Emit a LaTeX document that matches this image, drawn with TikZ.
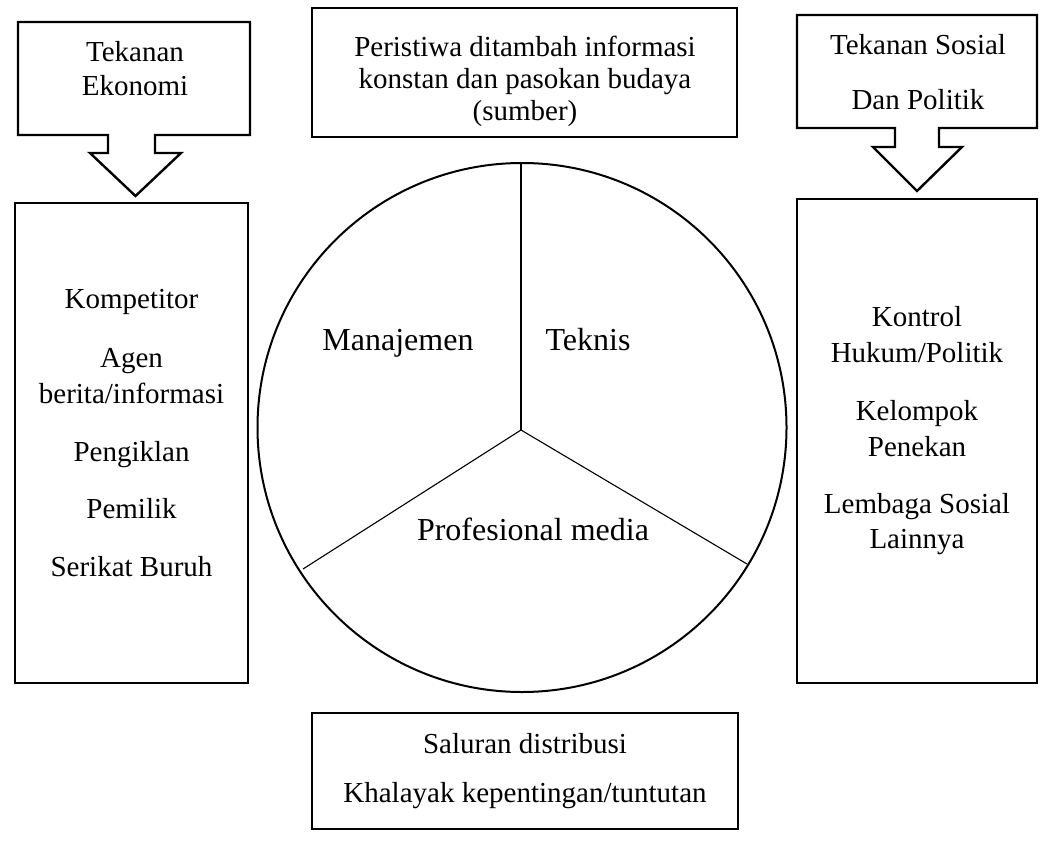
\documentclass[tikz,border=0pt]{standalone}
\usepackage{fontspec}
\setmainfont{Liberation Serif}
\begin{document}
\begin{tikzpicture}[x=1pt,y=-1pt,
  box/.style={line width=2.4pt, line join=miter},
  ring/.style={line width=2pt},
  divider/.style={line width=1.1pt},
  txt/.style={font=\fontsize{29}{34}\selectfont, anchor=base, inner sep=0pt},
  lbl/.style={font=\fontsize{32}{38}\selectfont, anchor=base, inner sep=0pt}]
\useasboundingbox (0,0) rectangle (1043,840);

% left callout
\draw[box] (18,22) -- (250,22) -- (250,135) -- (155,135) -- (155,153) -- (181,153)
  -- (135.5,196) -- (90,153) -- (108,153) -- (108,135) -- (18,135) -- cycle;
\node[txt] (tek1) at (135,62) {Tekanan};
\node[txt] (tek2) at (135,96) {Ekonomi};

% right callout
\draw[box] (797,15) -- (1037,15) -- (1037,128) -- (939,128) -- (939,147) -- (962,147)
  -- (917,191) -- (873,147) -- (895,147) -- (895,128) -- (797,128) -- cycle;
\node[txt] (ts1) at (918,55) {Tekanan Sosial};
\node[txt] (ts2) at (918,110) {Dan Politik};

% top box
\draw[box] (312,8) rectangle (737,137);
\node[txt] (src1) at (525,57) {Peristiwa ditambah informasi};
\node[txt] (src2) at (525,89) {konstan dan pasokan budaya};
\node[txt] (src3) at (525,121) {(sumber)};

% left big box
\draw[box] (15,203) rectangle (248,683);
\node[txt] (l1) at (131.5,308) {Kompetitor};
\node[txt] (l2a) at (131.5,367) {Agen};
\node[txt] (l2b) at (131.5,403) {berita/informasi};
\node[txt] (l3) at (131.5,461) {Pengiklan};
\node[txt] (l4) at (131.5,518) {Pemilik};
\node[txt] (l5) at (131.5,576) {Serikat Buruh};

% right big box
\draw[box] (797,199) rectangle (1037,683);
\node[txt] (r1a) at (917,326) {Kontrol};
\node[txt] (r1b) at (917,362) {Hukum/Politik};
\node[txt] (r2a) at (917,420) {Kelompok};
\node[txt] (r2b) at (917,456) {Penekan};
\node[txt] (r3a) at (917,513) {Lembaga Sosial};
\node[txt] (r3b) at (917,548) {Lainnya};

% circle
\draw[ring] (522,427.5) circle[radius=264.5];
\coordinate (hub) at (521,430);
\coordinate (top) at (521,164);
\coordinate (ll) at (303,569);
\coordinate (lr) at (747,564);
\draw[divider] (hub) -- (top);
\draw[divider] (hub) -- (ll);
\draw[divider] (hub) -- (lr);
\node[lbl] (man) at (398,350) {Manajemen};
\node[lbl] (tekn) at (588,350) {Teknis};
\node[lbl] (prof) at (533,540) {Profesional media};

% bottom box
\draw[box] (312,713) rectangle (738,829);
\node[txt] (b1) at (525,753) {Saluran distribusi};
\node[txt] (b2) at (525,802) {Khalayak kepentingan/tuntutan};
\end{tikzpicture}
\end{document}
